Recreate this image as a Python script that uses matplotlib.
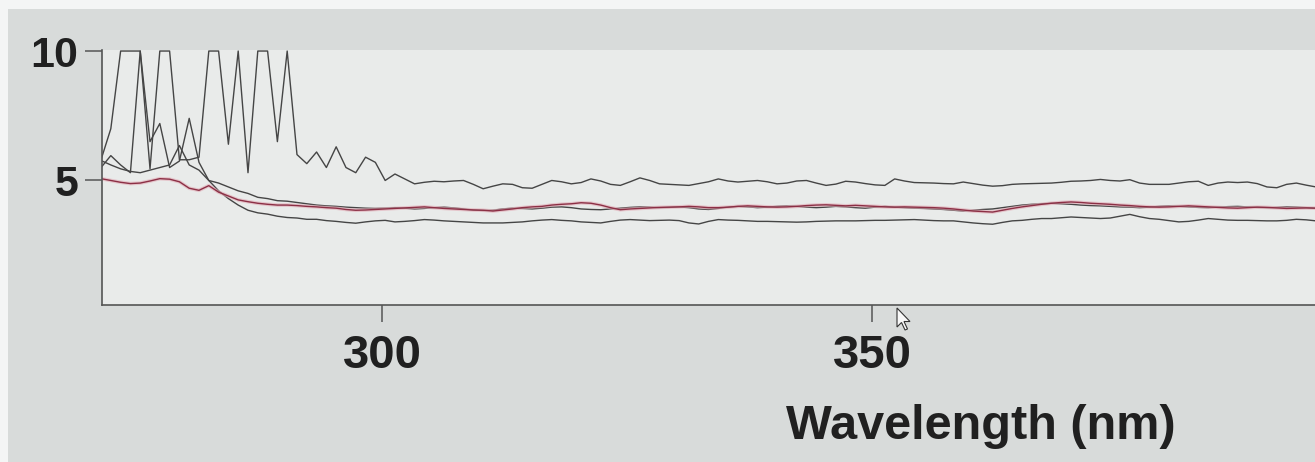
import numpy as np
import matplotlib.pyplot as plt
from matplotlib.patches import Polygon, Rectangle

# sample grid, 1 nm steps
wavelength = 271.3 + np.arange(126)

# upper trace (saturates at 10 below ~290 nm)
trace_top = [
    5.8, 7.0, 10, 10, 10, 5.45, 10, 10, 5.8, 5.8,
    5.9, 10, 10, 6.4, 10, 5.3, 10, 10, 6.5, 10,
    6.0, 5.65, 6.1, 5.5, 6.3, 5.5, 5.3, 5.9, 5.7, 5.0,
    5.25, 5.06, 4.87, 4.93, 4.97, 4.95, 4.98, 5.0, 4.85, 4.68,
    4.78, 4.87, 4.85, 4.72, 4.7, 4.85, 5.0, 4.95, 4.87, 4.92,
    5.06, 4.98, 4.85, 4.81, 4.95, 5.1, 5.0, 4.87, 4.85, 4.83,
    4.81, 4.88, 4.95, 5.06, 4.98, 4.94, 4.97, 5.0, 4.95, 4.87,
    4.9, 4.98, 5.0, 4.9, 4.81, 4.86, 4.97, 4.94, 4.88, 4.83,
    4.81, 5.06, 4.98, 4.92, 4.91, 4.9, 4.88, 4.87, 4.94, 4.88,
    4.82, 4.78, 4.8, 4.85, 4.87, 4.88, 4.89, 4.9, 4.93, 4.97,
    4.98, 5.0, 5.04, 5.0, 4.98, 5.03, 4.9, 4.85, 4.85, 4.85,
    4.9, 4.95, 4.97, 4.81, 4.9, 4.94, 4.92, 4.94, 4.88, 4.75,
    4.72, 4.85, 4.9, 4.82, 4.75, 4.72,
]

trace_mid = [
    5.5, 5.96, 5.6, 5.3, 10, 6.5, 7.2, 5.5, 5.75, 7.4,
    5.7, 5.0, 4.9, 4.75, 4.6, 4.5, 4.35, 4.3, 4.22, 4.2,
    4.15, 4.1, 4.05, 4.02, 4.0, 3.97, 3.95, 3.93, 3.92, 3.93,
    3.95, 3.93, 3.9, 3.92, 3.95, 3.97, 3.94, 3.9, 3.86, 3.84,
    3.85, 3.9, 3.93, 3.92, 3.9, 3.93, 3.97, 3.98, 3.95, 3.9,
    3.88, 3.87, 3.9, 3.93, 3.96, 3.98, 3.97, 3.95, 3.96, 3.98,
    3.95, 3.9, 3.88, 3.92, 3.97, 4.0, 3.98, 3.95, 3.97, 4.0,
    4.02, 4.0, 3.97, 3.95, 3.97, 4.0, 3.98, 3.95, 3.93, 3.97,
    4.0, 3.97, 3.95, 3.93, 3.92, 3.9, 3.88, 3.85, 3.82, 3.85,
    3.88, 3.9, 3.95, 4.0, 4.05, 4.08, 4.1, 4.12, 4.1, 4.08,
    4.05, 4.03, 4.02, 4.0, 3.98, 3.97, 3.95, 3.97, 4.0, 4.02,
    4.0, 3.98, 3.96, 3.95, 3.97, 3.99, 4.0, 3.98, 3.96, 3.95,
    3.96, 3.98, 3.97, 3.95, 3.93, 3.92,
]

trace_low = [
    5.77, 5.6, 5.45, 5.35, 5.3, 5.4, 5.5, 5.6, 6.35, 5.6,
    5.4, 5.0, 4.6, 4.3, 4.05, 3.85, 3.75, 3.7, 3.62, 3.57,
    3.55, 3.5, 3.5, 3.45, 3.42, 3.38, 3.35, 3.4, 3.44, 3.46,
    3.4, 3.42, 3.45, 3.49, 3.47, 3.44, 3.42, 3.4, 3.38, 3.36,
    3.36, 3.36, 3.38, 3.4, 3.44, 3.47, 3.49, 3.46, 3.44, 3.4,
    3.38, 3.36, 3.42, 3.47, 3.49, 3.47, 3.45, 3.46, 3.47, 3.45,
    3.36, 3.32, 3.42, 3.49, 3.47, 3.46, 3.44, 3.42, 3.42, 3.41,
    3.4, 3.39, 3.4, 3.42, 3.43, 3.44, 3.44, 3.44, 3.45, 3.46,
    3.46, 3.47, 3.48, 3.49, 3.47, 3.45, 3.44, 3.44, 3.4, 3.36,
    3.33, 3.31, 3.38, 3.44, 3.46, 3.5, 3.53, 3.53, 3.56, 3.59,
    3.57, 3.55, 3.53, 3.55, 3.62, 3.69, 3.6, 3.53, 3.5, 3.45,
    3.4, 3.42, 3.47, 3.53, 3.5, 3.47, 3.46, 3.46, 3.45, 3.44,
    3.44, 3.46, 3.5, 3.48, 3.44, 3.44,
]

# reference trace, drawn in red
trace_ref = [
    5.07, 5.0, 4.93, 4.88, 4.9, 4.98, 5.07, 5.05, 4.95, 4.7,
    4.62, 4.8, 4.55, 4.4, 4.25, 4.18, 4.12, 4.08, 4.05, 4.05,
    4.03, 4.0, 3.98, 3.95, 3.93, 3.88, 3.85, 3.86, 3.88, 3.9,
    3.92, 3.94, 3.96, 3.98, 3.95, 3.92, 3.9, 3.88, 3.86, 3.85,
    3.82, 3.86, 3.9, 3.95, 3.98, 4.0, 4.05, 4.08, 4.1, 4.14,
    4.12, 4.05, 3.95, 3.87, 3.9, 3.92, 3.94, 3.96, 3.97, 3.98,
    4.0, 3.98, 3.95, 3.95, 3.97, 4.0, 4.02, 4.0, 3.98, 3.97,
    3.98, 4.0, 4.03, 4.05, 4.06, 4.04, 4.02, 4.04, 4.02, 4.0,
    3.98, 3.97, 3.98, 3.97, 3.96, 3.95, 3.93, 3.9, 3.86, 3.82,
    3.8, 3.78, 3.85, 3.92, 3.98, 4.03, 4.08, 4.12, 4.15, 4.17,
    4.15, 4.12, 4.1, 4.08, 4.05, 4.03, 4.0, 3.98, 3.97, 3.98,
    4.0, 4.02, 4.0, 3.98, 3.96, 3.94, 3.93, 3.95, 3.97, 3.96,
    3.94, 3.92, 3.93, 3.94, 3.93, 3.92,
]

x_ticks = [300, 350]
y_ticks = [5, 10]

plt.rcParams['font.family'] = ['Liberation Sans', 'DejaVu Sans']
plt.rcParams['font.weight'] = 'bold'

W, H = 1315, 462
fig = plt.figure(figsize=(W / 100, H / 100), dpi=100, facecolor='#d8dbda')

ax = fig.add_axes([102 / W, 157 / H, 1 - 102 / W, 255 / H])
ax.set_facecolor('#e9ebea')

gray = '#454545'
ax.plot(wavelength, trace_top, color=gray, lw=1.0)
ax.plot(wavelength, trace_low, color=gray, lw=1.0)
ax.plot(wavelength, trace_mid, color=gray, lw=1.0)
ax.plot(wavelength, trace_ref, color='#e2aab5', lw=2.6, alpha=0.6)
ax.plot(wavelength, trace_ref, color='#8c2f45', lw=1.0)

ax.set_xlim(271.4, 395.2)
ax.set_ylim(0.19, 10.04)
ax.set_xticks(x_ticks)
ax.set_yticks(y_ticks)

for side in ('top', 'right'):
    ax.spines[side].set_visible(False)
for side in ('left', 'bottom'):
    ax.spines[side].set_color('#555555')
    ax.spines[side].set_linewidth(1.2)

ax.tick_params(axis='x', length=12, width=1.1, pad=9, labelsize=34,
               color='#555555', labelcolor='#202020')
ax.tick_params(axis='y', length=12, width=1.1, pad=5, labelsize=31,
               color='#555555', labelcolor='#202020')

fig.text(981 / W, 1 - 439 / H, 'Wavelength (nm)', ha='center', va='baseline',
         fontsize=35, fontweight='bold', color='#202020')

# thin light border along the top and left edges of the screen shot
fig.add_artist(Rectangle((0, 1 - 9 / H), 1, 9 / H, transform=fig.transFigure,
                         facecolor='#f4f5f5', edgecolor='none'))
fig.add_artist(Rectangle((0, 0), 8 / W, 1, transform=fig.transFigure,
                         facecolor='#f4f5f5', edgecolor='none'))

# mouse pointer below the axis
tip_x, tip_y = 897, 308
arrow = np.array([(0, 0), (0, 19), (4.5, 14.5), (8, 22), (10.5, 21),
                  (7, 13.5), (13, 13.5)])
pts = [((tip_x + px) / W, 1 - (tip_y + py) / H) for px, py in arrow]
fig.add_artist(Polygon(pts, closed=True, transform=fig.transFigure,
                       facecolor='#f8f8f8', edgecolor='#333333', lw=0.8))

fig.savefig('out.png', dpi=100, facecolor=fig.get_facecolor())
